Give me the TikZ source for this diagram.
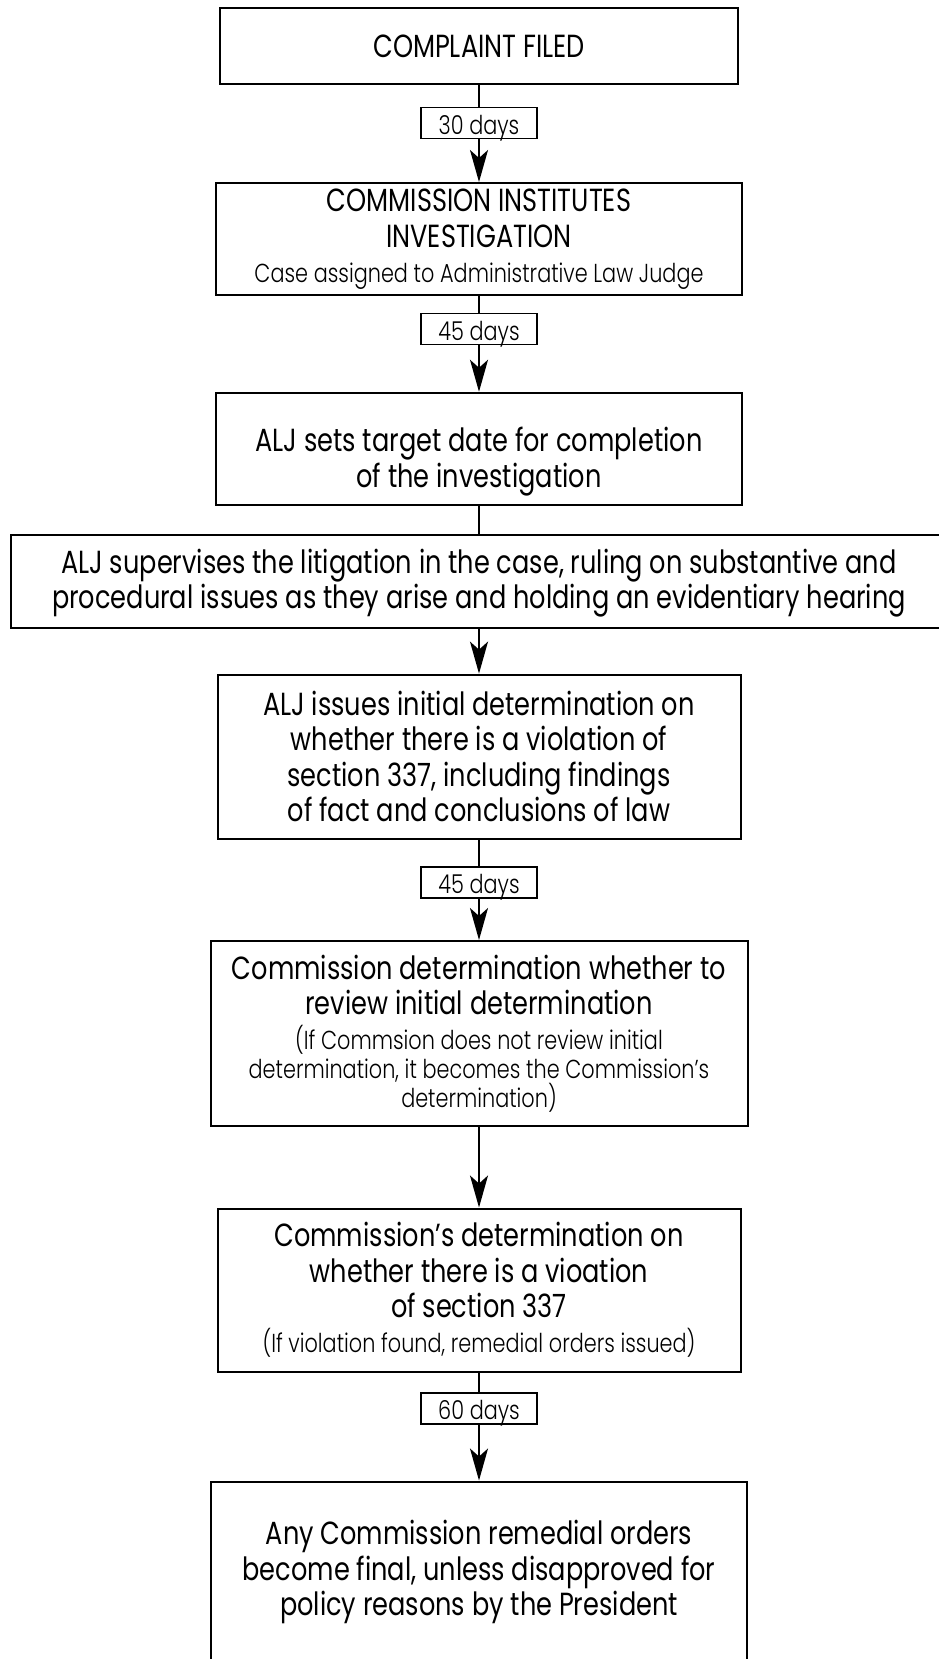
\documentclass[tikz,border=0pt]{standalone}
\usepackage{fontspec}
\setmainfont{Poppins}[FakeStretch=0.8]
\newfontfamily\lightf{Poppins Light}[FakeStretch=0.8]
\usetikzlibrary{positioning, arrows.meta}
\newcommand{\bigf}{\fontsize{16}{17.75}\selectfont}
\newcommand{\smf}{\lightf\fontsize{13}{14.5}\selectfont}
\newcommand{\gapf}{\par\vspace{3pt}}

\begin{document}
\begin{tikzpicture}[
  x=0.5pt, y=-0.5pt,
  >={Stealth[length=16pt,width=9pt,inset=4pt]},
  box/.style={
    draw,
    line width=1pt,
    align=flush center,
    inner sep=0pt,
    font=\bigf
  },
  tag/.style={
    draw,
    line width=0.9pt,
    minimum width=58pt,
    minimum height=15.5pt,
    text height=11.5pt,
    text depth=0.5pt,
    inner sep=0pt,
    font=\smf
  },
  arr/.style={->, line width=0.9pt},
  wire/.style={line width=0.9pt},
]
  \useasboundingbox (0,0) rectangle (938,1659);

  % ========== steps, top to bottom ==========
  \node[box, minimum width=259pt, minimum height=38pt] (filed) at (479,46.5)
    {COMPLAINT FILED};
  \node[box, text width=255pt, minimum width=263pt, minimum height=56pt] (institute) at (479,239)
    {COMMISSION INSTITUTES\\INVESTIGATION\gapf
     {\smf Case assigned to Administrative Law Judge\par}};
  % text sits low in this box: taller first line
  \node[box, text width=255pt, minimum width=263pt, minimum height=56.25pt] (target) at (479,449)
    {\rule{0pt}{25pt}ALJ sets target date for completion\\of the investigation};
  \node[box, text width=460pt, minimum width=468.5pt, minimum height=46.5pt] (litigate) at (479,581.5)
    {\rule{0pt}{14pt}ALJ supervises the litigation in the case, ruling on substantive and\\
     procedural issues as they arise and holding an evidentiary hearing};
  \node[box, text width=255pt, minimum width=261.5pt, minimum height=82pt] (initial) at (479,756.6)
    {ALJ issues initial determination on\\whether there is a violation of\\
     section 337, including findings\\of fact and conclusions of law};
  \node[box, text width=262pt, minimum width=268.5pt, minimum height=92.5pt] (review) at (479,1033.5)
    {Commission determination whether to\\review initial determination\gapf
     {\smf (If Commsion does not review initial\\determination, it becomes the Commission’s\\
      determination)\par}};
  \node[box, text width=255pt, minimum width=261.5pt, minimum height=81.5pt] (decision) at (479,1290)
    {Commission’s determination on\\whether there is a vioation\\of section 337\gapf
     {\smf (If violation found, remedial orders issued)\par}};
  % last box runs off the page at the bottom
  \node[box, minimum width=268pt, minimum height=120pt, anchor=north] (final) at (479,1480.5) {};
  \node[box, draw=none, text width=260pt] (finaltext) at (479,1572)
    {Any Commission remedial orders\\become final, unless disapproved for\\
     policy reasons by the President};

  % ========== time limits ==========
  \node[tag] (d30)  at (479,123)    {30 days};
  \node[tag] (d45a) at (479,329)    {45 days};
  \node[tag] (d45b) at (479,882.5)  {45 days};
  \node[tag] (d60)  at (479,1408.6) {60 days};

  % ========== connectors ==========
  \draw[wire] (filed) -- (d30);
  \draw[arr] (d30) -- (institute);
  \draw[wire] (institute) -- (d45a);
  \draw[arr] (d45a) -- (target);
  \draw[wire] (target) -- (litigate);
  \draw[arr] (litigate) -- (initial);
  \draw[wire] (initial) -- (d45b);
  \draw[arr] (d45b) -- (review);
  \draw[arr] (review) -- (decision);
  \draw[wire] (decision) -- (d60);
  \draw[arr] (d60) -- (final);

\end{tikzpicture}
\end{document}
